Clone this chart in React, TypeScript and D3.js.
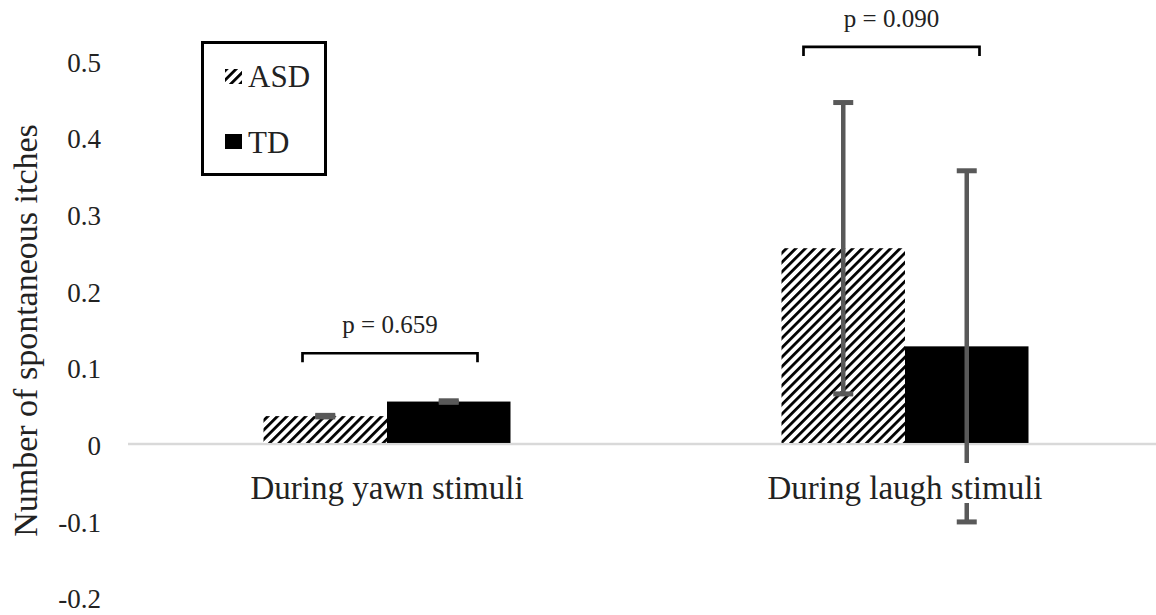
import * as d3 from 'd3'

const categories = ['During yawn stimuli', 'During laugh stimuli']
const groups = ['ASD', 'TD']
const asdMeans = [0.035, 0.254]
const asdErrors = [0.001, 0.19]
const tdMeans = [0.054, 0.126]
const tdErrors = [0.001, 0.229]
const yTicks = [-0.2, -0.1, 0, 0.1, 0.2, 0.3, 0.4, 0.5]
const yTickLabels = ['-0.2', '-0.1', '0', '0.1', '0.2', '0.3', '0.4', '0.5']
const pLabels = ['p = 0.659', 'p = 0.090']
const bracketLevels = [0.117, 0.5165]
const yTitle = 'Number of spontaneous itches'

// bracket ends, as px offsets from the group's left edge (layout, not data)
const bracketSpan: [number, number][] = [
  [39, 214],
  [22, 198],
]

const serif = "'Liberation Serif', 'DejaVu Serif', serif"
const errColor = '#595959'
const txt = { fontFamily: serif }

export default function App() {
  const width = 1156
  const height = 615
  const groupW = 247

  const x0 = d3.scaleBand<string>().domain(categories).range([128, 1164]).padding(0)
  const x1 = d3.scaleBand<string>().domain(groups).range([-groupW / 2, groupW / 2]).padding(0)
  const y = d3.scaleLinear().domain([-0.2, 0.5]).range([596.3, 59.6])

  const center = (c: string) => (x0(c) ?? 0) + x0.bandwidth() / 2
  const means: Record<string, number[]> = { ASD: asdMeans, TD: tdMeans }
  const errors: Record<string, number[]> = { ASD: asdErrors, TD: tdErrors }

  const bars = categories.flatMap((c, i) =>
    groups.map((g) => ({
      key: `${c}-${g}`,
      group: g,
      x: center(c) + (x1(g) ?? 0),
      w: x1.bandwidth(),
      v: means[g][i],
      e: errors[g][i],
    })),
  )

  return (
    <svg width={width} height={height} style={{ position: 'absolute', left: 0, top: 0, background: '#fff' }}>
      <defs>
        <pattern id="hatch" patternUnits="userSpaceOnUse" width={6.7} height={6.7} patternTransform="rotate(45)">
          <rect width={6.7} height={6.7} fill="#fff" />
          <line x1={1.4} y1={0} x2={1.4} y2={6.7} stroke="#000" strokeWidth={2.8} />
        </pattern>
      </defs>

      {/* zero line */}
      <line x1={x0.range()[0]} x2={width} y1={y(0) + 1} y2={y(0) + 1} stroke="#d9d9d9" strokeWidth={2.6} />

      {/* y tick labels */}
      {yTicks.map((t, i) => (
        <text key={t} x={101} y={y(t) + 12} textAnchor="end" fontSize={27} fill="#222" style={txt}>
          {yTickLabels[i]}
        </text>
      ))}

      {/* y title */}
      <text
        transform={`translate(37,${(118 + 543) / 2}) rotate(-90)`}
        textAnchor="middle"
        fontSize={34}
        fill="#222"
        style={txt}
      >
        {yTitle}
      </text>

      {/* bars */}
      {bars.map((b) => (
        <rect
          key={b.key}
          x={b.x}
          y={y(Math.max(0, b.v))}
          width={b.w}
          height={Math.abs(y(b.v) - y(0))}
          fill={b.group === 'ASD' ? 'url(#hatch)' : '#000'}
        />
      ))}

      {/* error bars */}
      {bars.map((b) => {
        const cx = b.x + b.w / 2
        return (
          <g key={`e-${b.key}`} stroke={errColor}>
            <line x1={cx} x2={cx} y1={y(b.v + b.e)} y2={y(b.v - b.e)} strokeWidth={4.5} />
            <line x1={cx - 10} x2={cx + 10} y1={y(b.v + b.e)} y2={y(b.v + b.e)} strokeWidth={5} />
            <line x1={cx - 10} x2={cx + 10} y1={y(b.v - b.e)} y2={y(b.v - b.e)} strokeWidth={5} />
          </g>
        )
      })}

      {/* category labels */}
      {categories.map((c) => (
        <g key={c}>
          <rect x={center(c) - 150} y={463} width={300} height={40} fill="#fff" />
          <text x={center(c)} y={499} textAnchor="middle" fontSize={33} fill="#222" style={txt}>
            {c}
          </text>
        </g>
      ))}

      {/* significance brackets */}
      {categories.map((c, i) => {
        const left = center(c) - groupW / 2
        const xa = left + bracketSpan[i][0]
        const xb = left + bracketSpan[i][1]
        const yb = y(bracketLevels[i])
        return (
          <g key={`br-${c}`}>
            <path d={`M${xa},${yb + 9}V${yb}H${xb}V${yb + 9}`} fill="none" stroke="#000" strokeWidth={2.7} />
            <text x={(xa + xb) / 2} y={yb - 20} textAnchor="middle" fontSize={25} fill="#222" style={txt}>
              {pLabels[i]}
            </text>
          </g>
        )
      })}

      {/* legend */}
      <g>
        <rect x={202.5} y={42.5} width={123} height={132} fill="#fff" stroke="#000" strokeWidth={3} />
        {groups.map((g, i) => (
          <g key={g}>
            <rect x={225} y={i === 0 ? 69 : 134} width={17} height={15} fill={g === 'ASD' ? 'url(#hatch)' : '#000'} />
            <text x={248} y={i === 0 ? 87 : 153} fontSize={31} fill="#222" style={txt}>
              {g}
            </text>
          </g>
        ))}
      </g>
    </svg>
  )
}
